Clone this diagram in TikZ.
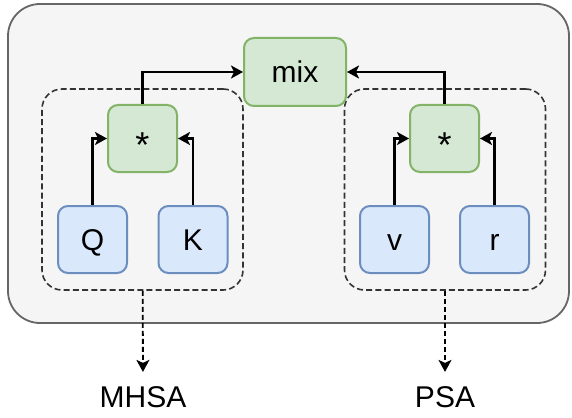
\documentclass[tikz,border=0pt]{standalone}
\usepackage{fontspec}
\setmainfont{Liberation Sans}
\usetikzlibrary{arrows.meta}

\definecolor{panelfill}{HTML}{F5F5F5}
\definecolor{panelline}{HTML}{666666}
\definecolor{opfill}{HTML}{D5E8D4}
\definecolor{opline}{HTML}{82B366}
\definecolor{infill}{HTML}{DAE8FC}
\definecolor{inline}{HTML}{6C8EBF}
\definecolor{groupline}{HTML}{333333}

\newcommand{\prodsign}{\raisebox{-4pt}{\fontsize{18}{18}\selectfont *}}

\begin{document}
\begin{tikzpicture}[x=0.5pt,y=-0.5pt,
  >={Stealth[length=6pt,width=6.5pt,inset=1.5pt]},
  font=\fontsize{15}{18}\selectfont,
  box/.style={rounded corners=5pt,line width=1pt,inner sep=0pt,
    text height=10.7pt,text depth=0pt,
    minimum width=34.5pt,minimum height=33.5pt},
  opbox/.style={box,draw=opline,fill=opfill},
  inbox/.style={box,draw=inline,fill=infill},
  group/.style={draw=groupline,line width=0.8pt,
    dash pattern=on 3pt off 1.6pt,rounded corners=10pt,
    minimum width=100.5pt,minimum height=100.5pt},
  link/.style={->,line width=1.1pt},
  tag/.style={inner xsep=0pt,inner ysep=7pt,text height=10.7pt,text depth=0pt}]
\useasboundingbox (0,0) rectangle (572,417);

% grey panel behind everything
\node[draw=panelline,fill=panelfill,line width=0.9pt,rounded corners=16pt,
  minimum width=280.5pt,minimum height=159.5pt] (panel) at (288.5,163.5) {};

% the two attention groups
\node[group] (lgroup) at (142.5,189.5) {};
\node[group] (rgroup) at (445,189.5) {};

\node[opbox,minimum width=51pt,minimum height=34pt] (mix) at (295,72) {mix};

% left: Q * K
\node[opbox] (lstar) at (142.5,138.5) {\prodsign};
\node[inbox] (q) at (92.5,239.5) {Q};
\node[inbox] (k) at (193,239.5) {K};

% right: v * r
\node[opbox] (rstar) at (444.5,138.5) {\prodsign};
\node[inbox] (v) at (394.5,239.5) {v};
\node[inbox] (r) at (494.5,239.5) {r};

\node[tag] (mhsa) at (143,397) {MHSA};
\node[tag] (psa) at (445,397) {PSA};

\draw[link] (q) |- (lstar);
\draw[link] (k) |- (lstar);
\draw[link] (v) |- (rstar);
\draw[link] (r) |- (rstar);
\draw[link] (lstar) |- (mix);
\draw[link] (rstar) |- (mix);

\draw[->,line width=0.9pt,dash pattern=on 2.5pt off 1.5pt] (lgroup) -- (mhsa);
\draw[->,line width=0.9pt,dash pattern=on 2.5pt off 1.5pt] (rgroup) -- (psa);
\end{tikzpicture}
\end{document}
